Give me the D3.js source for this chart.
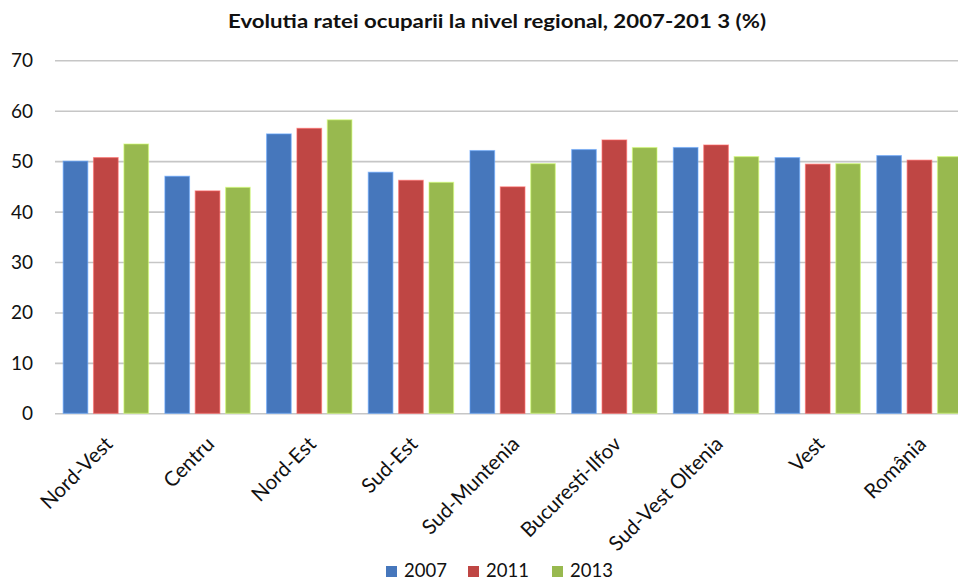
<!DOCTYPE html>
<html>
<head>
<meta charset="utf-8">
<script src="https://cdn.jsdelivr.net/npm/d3@7/dist/d3.min.js"></script>
<style>
  html, body { margin: 0; padding: 0; background: #fff; overflow: hidden; }
  svg { display: block; }
</style>
</head>
<body>
<svg id="chart" width="958" height="582"></svg>
<script>
// Employment rate by development region, Romania (%)
const regions = ["Nord-Vest", "Centru", "Nord-Est", "Sud-Est", "Sud-Muntenia",
                 "Bucuresti-Ilfov", "Sud-Vest Oltenia", "Vest", "România"];
const years = ["2007", "2011", "2013"];
const values2007 = [50.0, 47.0, 55.4, 47.8, 52.1, 52.3, 52.7, 50.7, 51.1];
const values2011 = [50.7, 44.1, 56.5, 46.2, 44.9, 54.2, 53.2, 49.4, 50.2];
const values2013 = [53.4, 44.8, 58.2, 45.8, 49.5, 52.7, 50.9, 49.5, 50.9];
const yTicks = [0, 10, 20, 30, 40, 50, 60, 70];
const colors = ["#4677BC", "#BF4644", "#98B94F"];

const seriesValues = [values2007, values2011, values2013];
const rows = regions.map((r, i) => ({
  region: r,
  vals: years.map((y, k) => ({ year: y, value: seriesValues[k][i], k }))
}));

const svg = d3.select("#chart");
const font = "Lato, 'Open Sans', sans-serif";

// Plot area; the category axis runs slightly past the right edge
const left = 55, step = 101.7;
const x0 = d3.scaleBand().domain(regions).range([left, left + step * regions.length]).padding(0);
const x1 = d3.scaleBand().domain(years).range([0, x0.bandwidth()])
  .paddingInner(0.19).paddingOuter(0.27);
const y = d3.scaleLinear().domain([0, 70]).range([413.3, 60.3]);

// Title
svg.append("text")
  .attr("x", 497).attr("y", 28)
  .attr("text-anchor", "middle")
  .attr("font-family", font).attr("font-weight", "bold")
  .attr("font-size", 18).attr("fill", "#111")
  .attr("textLength", 538).attr("lengthAdjust", "spacingAndGlyphs")
  .text("Evolutia ratei ocuparii la nivel regional, 2007-201 3 (%)");

// Horizontal gridlines + y labels
const yAxis = d3.axisLeft(y).tickValues(yTicks).tickSize(-(1000 - left)).tickPadding(22);
const gy = svg.append("g").attr("transform", `translate(${left},0)`).call(yAxis);
gy.select(".domain").remove();
gy.selectAll(".tick line").attr("stroke", "#c6c6c6").attr("stroke-width", 1.6);
gy.selectAll(".tick text")
  .attr("font-family", font).attr("font-size", 19).attr("fill", "#111")
  .attr("dy", "0.34em");

// Bars
const groups = svg.append("g").selectAll("g").data(rows).join("g")
  .attr("transform", d => `translate(${x0(d.region)},0)`);
groups.selectAll("rect").data(d => d.vals).join("rect")
  .attr("x", d => x1(d.year))
  .attr("width", x1.bandwidth())
  .attr("y", d => y(d.value))
  .attr("height", d => y(0) - y(d.value))
  .attr("fill", d => colors[d.k])
  .attr("stroke", d => d3.color(colors[d.k]).brighter(0.9))
  .attr("stroke-opacity", 0.55)
  .attr("stroke-width", 1.2);

// Category labels, rotated
const xAxis = d3.axisBottom(x0).tickSize(0).tickPadding(0);
const gx = svg.append("g").attr("transform", `translate(0,${y(0)})`).call(xAxis);
gx.select(".domain").remove();
gx.selectAll(".tick text")
  .attr("font-family", font).attr("font-size", 20.5).attr("fill", "#111")
  .attr("text-anchor", "end")
  .attr("transform", "translate(3,27) rotate(-45)")
  .attr("dy", "0.35em").attr("y", 0);

// Legend
const legendX = [386, 468, 552];
const legend = svg.append("g").selectAll("g").data(years).join("g")
  .attr("transform", (d, i) => `translate(${legendX[i]},0)`);
legend.append("rect")
  .attr("x", 0).attr("y", 566).attr("width", 11).attr("height", 11)
  .attr("fill", (d, i) => colors[i]);
legend.append("text")
  .attr("x", 18).attr("y", 577)
  .attr("font-family", font).attr("font-size", 18.5).attr("fill", "#111")
  .text(d => d);
</script>
</body>
</html>
